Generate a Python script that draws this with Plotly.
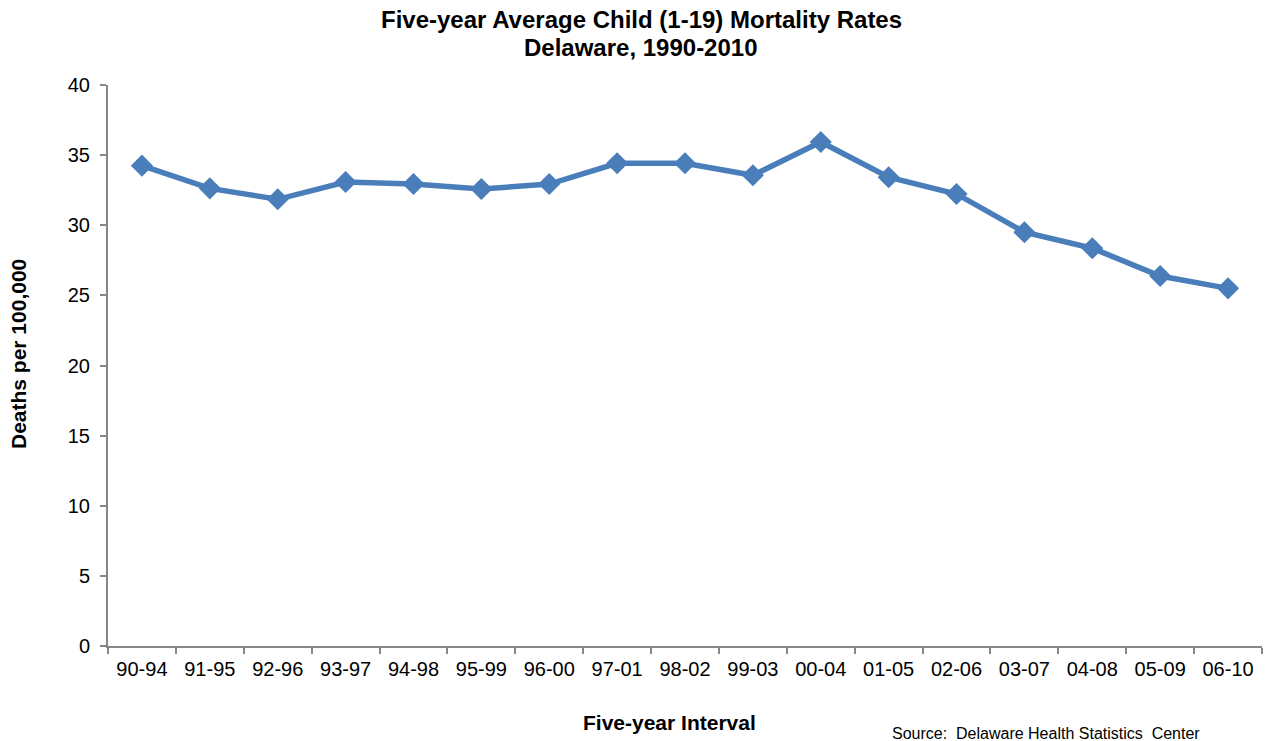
import plotly.graph_objects as go

intervals = ["90-94", "91-95", "92-96", "93-97", "94-98", "95-99", "96-00", "97-01", "98-02",
             "99-03", "00-04", "01-05", "02-06", "03-07", "04-08", "05-09", "06-10"]
rates = [34.25, 32.63, 31.85, 33.08, 32.94, 32.58, 32.94, 34.42, 34.42,
         33.56, 35.94, 33.42, 32.23, 29.5, 28.36, 26.38, 25.5]
y_ticks = [0, 5, 10, 15, 20, 25, 30, 35, 40]

FONT = "Liberation Sans, Arial, sans-serif"
color = "#4a7ebb"
axis_col = "#868686"

W, H = 1271, 741
L, R, T, B = 108, 9, 85, 95

fig = go.Figure()
fig.add_trace(go.Scatter(
    x=intervals, y=rates, mode="lines+markers",
    line=dict(color=color, width=5.5),
    marker=dict(symbol="diamond", size=17, color=color),
    showlegend=False,
))

pw = W - L - R
ph = H - T - B
def px(x):
    return (x - L) / pw
def py(y):
    return (H - B - y) / ph

fig.update_layout(
    width=W, height=H,
    margin=dict(l=L, r=R, t=T, b=B),
    paper_bgcolor="white", plot_bgcolor="white",
    font=dict(family=FONT, size=21, color="black"),
    xaxis=dict(
        type="category", showgrid=False, showline=True, linecolor=axis_col, linewidth=2,
        ticks="outside", tickson="boundaries", ticklen=6, tickcolor=axis_col, tickwidth=2,
        tickfont=dict(family=FONT, size=20), range=[-0.5, 16.5], ticklabelstandoff=4,
    ),
    yaxis=dict(
        range=[0, 40], tickvals=y_ticks, showgrid=False, showline=True, linecolor=axis_col,
        linewidth=2, ticks="outside", ticklen=6, tickcolor=axis_col, tickwidth=2,
        tickfont=dict(family=FONT, size=20), zeroline=False, ticklabelstandoff=6,
    ),
    annotations=[
        dict(text="<b>Five-year Average Child (1-19) Mortality Rates</b>", x=px(641), y=py(20),
             xref="paper", yref="paper", xanchor="center", yanchor="middle", showarrow=False,
             font=dict(family=FONT, size=24)),
        dict(text="<b>Delaware, 1990-2010</b>", x=px(641), y=py(47),
             xref="paper", yref="paper", xanchor="center", yanchor="middle", showarrow=False,
             font=dict(family=FONT, size=24)),
        dict(text="<b>Deaths per 100,000</b>", textangle=-90, x=px(18), y=py(354),
             xref="paper", yref="paper", xanchor="center", yanchor="middle", showarrow=False,
             font=dict(family=FONT, size=21)),
        dict(text="<b>Five-year Interval</b>", x=px(669), y=py(722),
             xref="paper", yref="paper", xanchor="center", yanchor="middle", showarrow=False,
             font=dict(family=FONT, size=21)),
        dict(text="Source:  Delaware Health Statistics  Center", x=px(1046), y=py(734),
             xref="paper", yref="paper", xanchor="center", yanchor="middle", showarrow=False,
             font=dict(family=FONT, size=16)),
    ],
)

fig.write_html("out.html", config={"displayModeBar": False},
               post_script="document.body.style.margin='0px';")
